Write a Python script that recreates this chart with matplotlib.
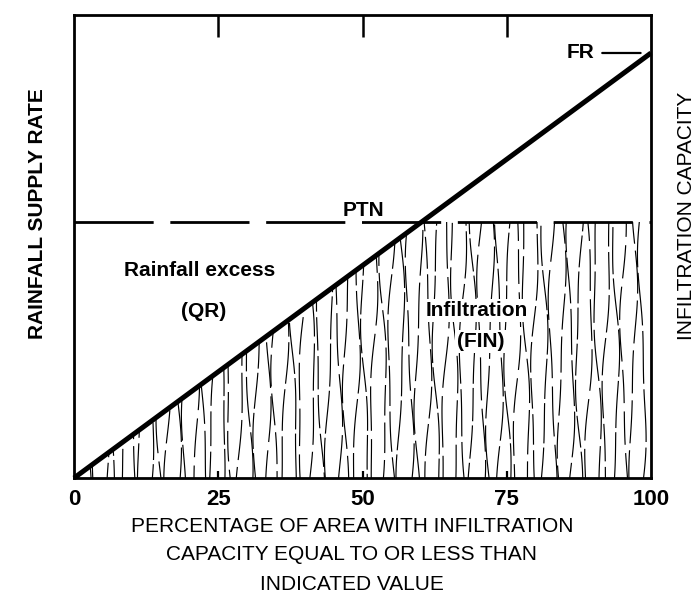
import matplotlib
matplotlib.use("Agg")
import matplotlib.pyplot as plt
import numpy as np

# rainfall supply rate (FR line) against percentage of area
area_pct = [0, 100]
supply_rate = [0, 91.8]
ptn_level = 55.3          # potential infiltration level (dashed)
x_ticks = [0, 25, 50, 75, 100]
x_tick_labels = ["0", "25", "50", "75", "100"]

plt.rcParams["font.family"] = ["Liberation Sans", "DejaVu Sans"]
plt.rcParams["lines.scale_dashes"] = False

fig = plt.figure(figsize=(6.97, 6.16), dpi=100)
ax = fig.add_axes([0.1062, 0.224, 0.8278, 0.7516])
ax.set_xlim(0, 100)
ax.set_ylim(0, 100)

# infiltration region: under both the supply line and PTN
xg = np.linspace(area_pct[0], area_pct[-1], 401)
yg = np.minimum(np.interp(xg, area_pct, supply_rate), ptn_level)
region = ax.fill_between(xg, 0, yg, facecolor="white", edgecolor="none",
                         zorder=1)
clip = region.get_paths()[0]

# streaky texture inside the infiltration region (decoration only)
ys = np.linspace(0, ptn_level, 120)
for i, x0 in enumerate(np.arange(0.8, 100, 1.55)):
    xs = (x0 + 0.6 * np.sin(ys / 11 + i * 2.399)
          + 0.2 * np.sin(ys / 4.5 + i * 1.7))
    on = 22 + (i * 7) % 17
    off = 3 + (i * 3) % 4
    ln, = ax.plot(xs, ys, color="black", lw=0.85, zorder=1.5,
                  linestyle=((i * 5) % 23, (on, off)))
    ln.set_clip_path(clip, ax.transData)

ax.axhline(ptn_level, color="black", lw=2.0, dashes=(57, 12), zorder=2)
ax.plot(area_pct, supply_rate, color="black", lw=3.6,
        solid_capstyle="butt", zorder=3, clip_on=False)

for s in ax.spines.values():
    s.set_linewidth(2.0)
    s.set_zorder(4)

ax.set_xticks(x_ticks)
ax.set_xticklabels(x_tick_labels, fontsize=16, fontweight="bold")
ax.set_yticks([])
ax.tick_params(axis="x", direction="in", length=5, width=1.6, pad=8,
               top=True)
# longer ticks along the top edge
for t in ax.xaxis.get_major_ticks():
    t.tick2line.set_markersize(16)
    t.tick2line.set_markeredgewidth(1.8)
for i in (0, -1):
    ax.xaxis.get_major_ticks()[i].tick1line.set_visible(False)
    ax.xaxis.get_major_ticks()[i].tick2line.set_visible(False)

ax.text(21.8, 44.9, "Rainfall excess", ha="center", va="center",
        fontsize=15, fontweight="bold")
ax.text(22.4, 35.9, "(QR)", ha="center", va="center",
        fontsize=15, fontweight="bold")
box = dict(facecolor="white", edgecolor="none", pad=1.5)
ax.text(69.8, 36.1, "Infiltration", ha="center", va="center",
        fontsize=15, fontweight="bold", bbox=box, zorder=5)
ax.text(70.5, 29.4, "(FIN)", ha="center", va="center",
        fontsize=15, fontweight="bold", bbox=box, zorder=5)
ax.text(50.1, 57.7, "PTN", ha="center", va="center",
        fontsize=15, fontweight="bold")
ax.annotate("FR", xy=(98.2, supply_rate[-1]), xytext=(87.7, supply_rate[-1]),
            ha="center", va="center", fontsize=15, fontweight="bold",
            arrowprops=dict(arrowstyle="-", lw=1.6, color="black",
                            shrinkA=4, shrinkB=0))

fig.text(38 / 697, 1 - 214 / 616, "RAINFALL SUPPLY RATE", rotation=90,
         ha="center", va="center", fontsize=15, fontweight="bold")
fig.text(686 / 697, 1 - 216 / 616, "INFILTRATION CAPACITY", rotation=90,
         ha="center", va="center", fontsize=15)

xlabel_lines = ["PERCENTAGE OF AREA WITH INFILTRATION",
                "CAPACITY EQUAL TO OR LESS THAN",
                "INDICATED VALUE"]
for i, line in enumerate(xlabel_lines):
    fig.text(352 / 697, 1 - (526 + 29 * i) / 616, line, ha="center",
             va="center", fontsize=15)

fig.savefig("out.png", dpi=100)
